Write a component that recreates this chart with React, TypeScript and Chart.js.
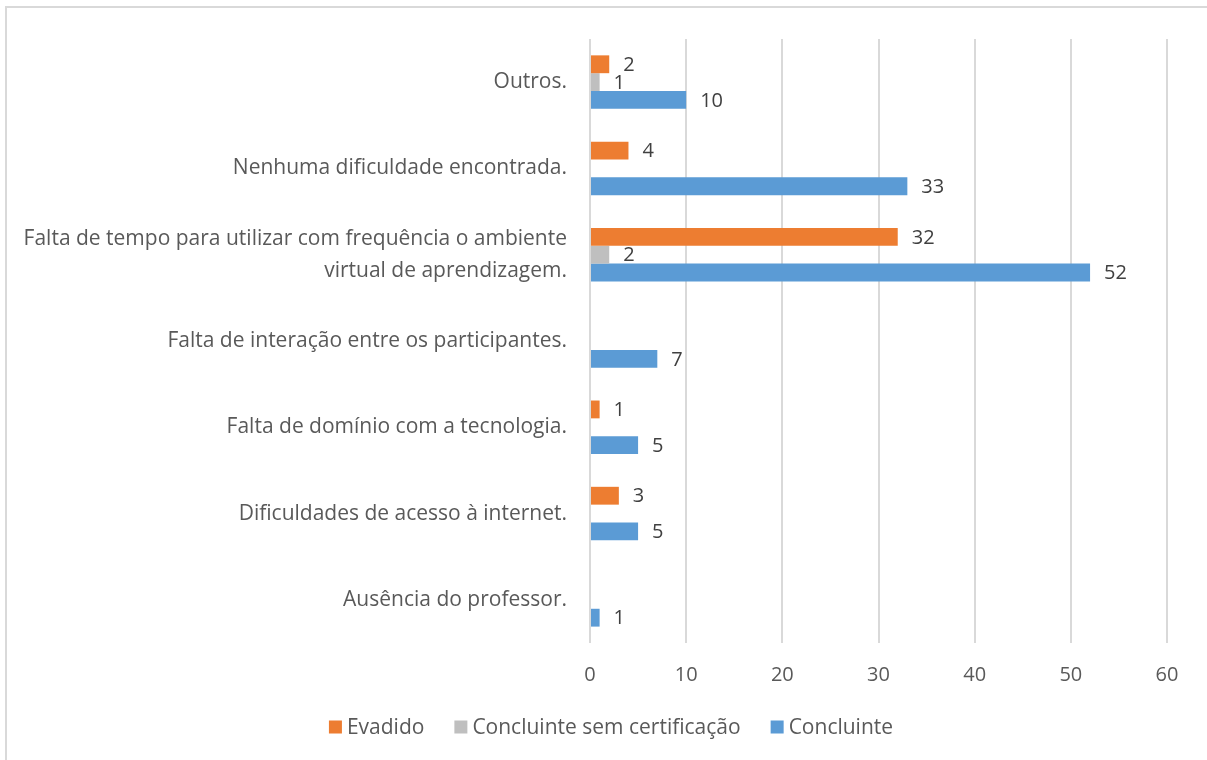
import React, { useEffect, useRef } from 'react';
import { Chart, registerables } from 'chart.js';

Chart.register(...registerables);

const categories: (string | string[])[] = [
  'Outros.',
  'Nenhuma dificuldade encontrada.',
  ['Falta de tempo para utilizar com frequência o ambiente', 'virtual de aprendizagem.'],
  'Falta de interação entre os participantes.',
  'Falta de domínio com a tecnologia.',
  'Dificuldades de acesso à internet.',
  'Ausência do professor.',
];

const evadido: (number | null)[] = [2, 4, 32, null, 1, 3, null];
const semCertificacao: (number | null)[] = [1, null, 2, null, null, null, null];
const concluinte: (number | null)[] = [10, 33, 52, 7, 5, 5, 1];

const seriesNames = ['Evadido', 'Concluinte sem certificação', 'Concluinte'];
const seriesColors = ['#ED7D31', '#BFBFBF', '#5B9BD5'];

const xMin = 0;
const xMax = 60;
const xStep = 10;

const FONT = '"Open Sans", sans-serif';

const framePlugin = {
  id: 'frame',
  beforeDraw(chart: any) {
    const ctx = chart.ctx;
    ctx.save();
    ctx.fillStyle = '#FFFFFF';
    ctx.fillRect(0, 0, chart.width, chart.height);
    ctx.fillStyle = '#D9D9D9';
    ctx.fillRect(5, 6, 2, chart.height - 6);
    ctx.fillRect(5, 6, chart.width - 5, 2);
    ctx.restore();
  },
};

const valueLabelPlugin = {
  id: 'valueLabels',
  afterDatasetsDraw(chart: any) {
    const ctx = chart.ctx;
    ctx.save();
    ctx.font = `20px ${FONT}`;
    ctx.fillStyle = '#404040';
    ctx.textAlign = 'left';
    ctx.textBaseline = 'middle';
    chart.data.datasets.forEach((ds: any, i: number) => {
      const meta = chart.getDatasetMeta(i);
      meta.data.forEach((bar: any, j: number) => {
        const v = ds.data[j];
        if (v === null || v === undefined) return;
        ctx.fillText(String(v), bar.x + 14, bar.y + 1);
      });
    });
    ctx.restore();
  },
};

const legendPlugin = {
  id: 'customLegend',
  afterDraw(chart: any) {
    const ctx = chart.ctx;
    ctx.save();
    ctx.font = `21px ${FONT}`;
    ctx.textBaseline = 'middle';
    ctx.textAlign = 'left';
    const box = 13;
    const gap = 5;
    const spacing = 30;
    const widths = chart.data.datasets.map((ds: any) => box + gap + ctx.measureText(ds.label).width);
    const total = widths.reduce((a: number, b: number) => a + b, 0) + spacing * (widths.length - 1);
    let x = 611 - total / 2;
    const y = 727;
    chart.data.datasets.forEach((ds: any, i: number) => {
      ctx.fillStyle = ds.backgroundColor;
      ctx.fillRect(x, y - box / 2, box, box);
      ctx.fillStyle = '#595959';
      ctx.fillText(ds.label, x + box + gap, y + 1);
      x += widths[i] + spacing;
    });
    ctx.restore();
  },
};

export default function App() {
  const ref = useRef<HTMLCanvasElement | null>(null);

  useEffect(() => {
    if (!ref.current) return;
    const data = [evadido, semCertificacao, concluinte];
    const chart = new Chart(ref.current, {
      type: 'bar',
      data: {
        labels: categories as any,
        datasets: data.map((d, i) => ({
          label: seriesNames[i],
          data: d,
          backgroundColor: seriesColors[i],
          borderWidth: 0,
          barPercentage: 1,
          categoryPercentage: 0.62,
        })),
      },
      options: {
        indexAxis: 'y',
        responsive: false,
        animation: false,
        layout: { padding: { top: 36, right: 40, left: 0, bottom: 59 } },
        plugins: {
          legend: { display: false },
          tooltip: { enabled: false },
        },
        scales: {
          x: {
            min: xMin,
            max: xMax,
            ticks: {
              stepSize: xStep,
              color: '#595959',
              padding: 20,
              font: { family: FONT, size: 20 },
            },
            grid: { color: '#D9D9D9', lineWidth: 2, drawTicks: false },
            border: { display: false },
            afterFit(scale: any) {
              scale.height = 58;
            },
          },
          y: {
            ticks: {
              color: '#595959',
              padding: 23,
              font: { family: FONT, size: 21, lineHeight: 1.52 },
            },
            grid: { display: false, drawTicks: false },
            border: { display: false },
            afterFit(scale: any) {
              scale.width = 590;
            },
          },
        },
      },
      plugins: [framePlugin, valueLabelPlugin, legendPlugin],
    });
    return () => chart.destroy();
  }, []);

  return (
    <div style={{ position: 'absolute', left: 0, top: 0, width: 1207, height: 760 }}>
      <canvas ref={ref} width={1207} height={760} style={{ display: 'block' }} />
    </div>
  );
}
